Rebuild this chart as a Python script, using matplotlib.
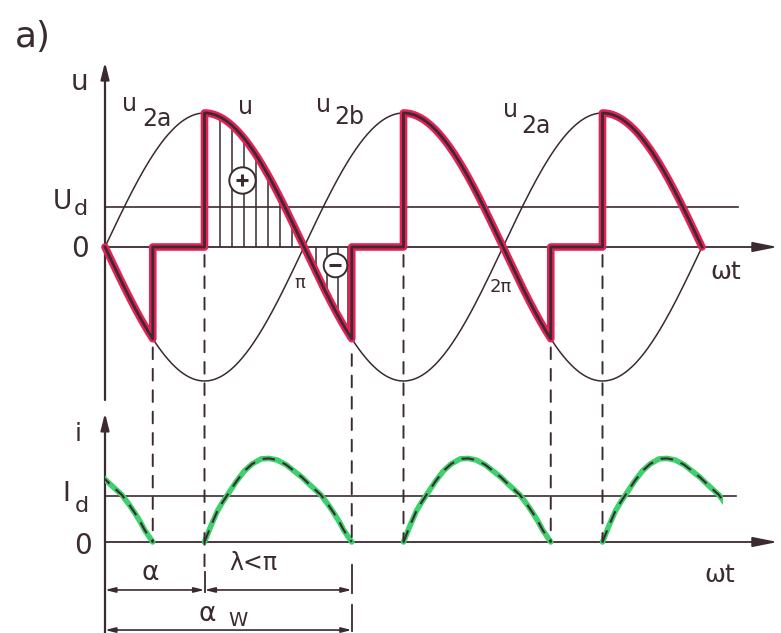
import numpy as np
import matplotlib
matplotlib.use("Agg")
import matplotlib.pyplot as plt
from matplotlib.patches import ConnectionPatch, Rectangle

W, H = 781, 633
INK = "#3b2a2e"
RED = "#e8205a"
GREEN = "#3fd06e"

# angles in units of pi
FIRINGS = [-0.5, 0.5, 1.5, 2.5]     # thyristor firing points (alpha = pi/2)
CONDUCTION = 0.74                    # lambda < pi
U_END = 3.0
I_END = 3.106
U_D = 0.30                           # mean voltage level (peak = 1)
I_D = 0.55                           # mean current level (peak = 1)

# current pulse: offset after firing, value
PULSE_OFFSET = [0.00, 0.03, 0.065, 0.09, 0.115, 0.16, 0.20, 0.24, 0.285, 0.325,
                0.365, 0.41, 0.45, 0.49, 0.525, 0.555, 0.585, 0.62, 0.65, 0.675,
                0.70, 0.72, 0.74]
PULSE_I = [0.00, 0.18, 0.37, 0.47, 0.56, 0.72, 0.845, 0.93, 0.99, 0.995,
           0.976, 0.92, 0.845, 0.77, 0.69, 0.625, 0.56, 0.45, 0.345, 0.25,
           0.14, 0.07, 0.00]

HATCH_POS = [0.578, 0.638, 0.698, 0.759, 0.819, 0.879, 0.940]
HATCH_NEG = [1.060, 1.116, 1.171, 1.221]

DASHED_AT = [0.24, 0.5, 1.24, 1.5, 2.24, 2.5]
DASHED_TOP = [-0.75, -0.06, -0.80, -0.06, -0.75, -0.06]
DASHED_BOTTOM = [0, -0.36, 0, 0, 0, 0]

PX = 199   # pixels per pi
X0 = 105   # pixel column of the axes origin
xlim = (-X0 / PX, (W - X0) / PX)

fig = plt.figure(figsize=(W / 100, H / 100), dpi=100)
ax_u = fig.add_axes([0, (H - 400) / H, 1, 360 / H])
ax_u.set_xlim(xlim)
ax_u.set_ylim((247 - 400) / 134, (247 - 40) / 134)
ax_i = fig.add_axes([0, 0, 1, 233 / H])
ax_i.set_xlim(xlim)
ax_i.set_ylim((542 - 633) / 84, (542 - 400) / 84)
for ax in (ax_u, ax_i):
    ax.set_axis_off()

big_arrow = dict(arrowstyle="-|>,head_length=1.5,head_width=0.3", color=INK,
                 lw=1.3, shrinkA=0, shrinkB=0)
up_arrow = dict(arrowstyle="-|>,head_length=1.0,head_width=0.25", color=INK,
                lw=1.6, shrinkA=0, shrinkB=0)
dim_arrow = dict(arrowstyle="<|-|>,head_length=0.6,head_width=0.15", color=INK,
                 lw=1.2, shrinkA=0, shrinkB=0)

# ---- upper plot: voltages ----
ax_u.annotate("", xy=(0, 1.38), xytext=(0, ax_u.get_ylim()[0]), arrowprops=up_arrow)
ax_u.annotate("", xy=(3.38, 0), xytext=(0, 0), arrowprops=big_arrow)
ax_u.plot([0, 3.18], [U_D, U_D], color=INK, lw=1.2)

th = np.linspace(0, U_END, 800)
ax_u.plot(th, np.sin(np.pi * th), color=INK, lw=1.1)
ax_u.plot(th, -np.sin(np.pi * th), color=INK, lw=1.1)

hp = np.array(HATCH_POS)
hn = np.array(HATCH_NEG)
ax_u.vlines(hp, 0, np.sin(np.pi * hp), color=INK, lw=1.1)
ax_u.vlines(hn, 0, np.sin(np.pi * hn), color=INK, lw=1.1)

ux, uy = [], []
for f in FIRINGS:
    sign = np.sign(np.sin(np.pi * f))
    a, b = max(f, 0), min(f + CONDUCTION, U_END)
    t = np.linspace(a, b, 120)
    if f >= 0:
        ux.append(a)
        uy.append(0)
    ux.extend(t)
    uy.extend(sign * np.sin(np.pi * t))
    if b < U_END:
        ux.append(b)
        uy.append(0)
ax_u.plot(ux, uy, color=RED, lw=5.5, solid_joinstyle="round",
          solid_capstyle="round", zorder=3)
ax_u.plot(ux, uy, color=INK, lw=2.0, zorder=4)

ax_u.plot(0.688, 0.50, "o", ms=19, mfc="white", mec=INK, mew=1.4, zorder=5)
ax_u.plot(0.688, 0.50, marker="+", ms=9, mew=2.2, color=INK, zorder=6)
ax_u.plot(1.156, -0.134, "o", ms=17, mfc="white", mec=INK, mew=1.4, zorder=5)
ax_u.plot(1.156, -0.134, marker="_", ms=8, mew=2.2, color=INK, zorder=6)

# ---- lower plot: current ----
ax_i.annotate("", xy=(0, 1.536), xytext=(0, ax_i.get_ylim()[0]), arrowprops=up_arrow)
ax_i.annotate("", xy=(3.38, 0), xytext=(0, 0), arrowprops=big_arrow)
ax_i.plot([0, 3.17], [I_D, I_D], color=INK, lw=1.2)

clip = Rectangle((0, -1), I_END, 3, transform=ax_i.transData)
for f in FIRINGS:
    px = np.array(PULSE_OFFSET) + f
    g, = ax_i.plot(px, PULSE_I, color=GREEN, lw=4, solid_capstyle="round", zorder=3)
    k, = ax_i.plot(px, PULSE_I, color=INK, lw=1.5, dashes=(6, 4), zorder=4)
    g.set_clip_path(clip)
    k.set_clip_path(clip)

# dimension lines
ax_i.annotate("", xy=(0, -0.571), xytext=(0.5, -0.571), arrowprops=dim_arrow)
ax_i.annotate("", xy=(0.5, -0.571), xytext=(1.24, -0.571), arrowprops=dim_arrow)
ax_i.annotate("", xy=(0, -1.048), xytext=(1.24, -1.048), arrowprops=dim_arrow)
ax_i.plot([0.5, 0.5], [-0.36, -0.6], color=INK, lw=1.3)
ax_i.plot([1.24, 1.24], [-0.27, -0.61], color=INK, lw=1.3)
ax_i.plot([1.24, 1.24], [-0.75, -1.06], color=INK, lw=1.3)

# dashed verticals linking both plots
for x, top, bot in zip(DASHED_AT, DASHED_TOP, DASHED_BOTTOM):
    cp = ConnectionPatch(xyA=(x, top), coordsA=ax_u.transData,
                         xyB=(x, bot), coordsB=ax_i.transData,
                         color=INK, lw=1.4, linestyle=(0, (6, 5)))
    fig.add_artist(cp)


def label(x, y, s, size=18, **kw):
    fig.text(x / W, 1 - y / H, s, fontsize=size, color=INK,
             ha="center", va="center", **kw)


label(33, 37, "a)", 26)
label(79, 82, "u", 20)
label(62, 202, "U", 19)
label(81, 209, "d", 16)
label(80, 249, "0", 20)
label(130, 104, "u", 17)
label(157, 119, "2a", 17)
label(245, 107, "u", 17)
label(324, 105, "u", 17)
label(349, 117, "2b", 17)
label(511, 110, "u", 17)
label(536, 126, "2a", 17)
label(300, 283, "π", 13)
label(501, 287, "2π", 13)
label(726, 272, "ωt", 18)
label(78, 434, "i", 18)
label(66, 494, "I", 19)
label(82, 506, "d", 16)
label(83, 546, "0", 20)
label(720, 575, "ωt", 18)
label(150, 573, "α", 19)
label(253, 563, "λ<π", 17)
label(207, 614, "α", 19)
label(238, 620, "W", 14)

fig.savefig("out.png", dpi=100)
